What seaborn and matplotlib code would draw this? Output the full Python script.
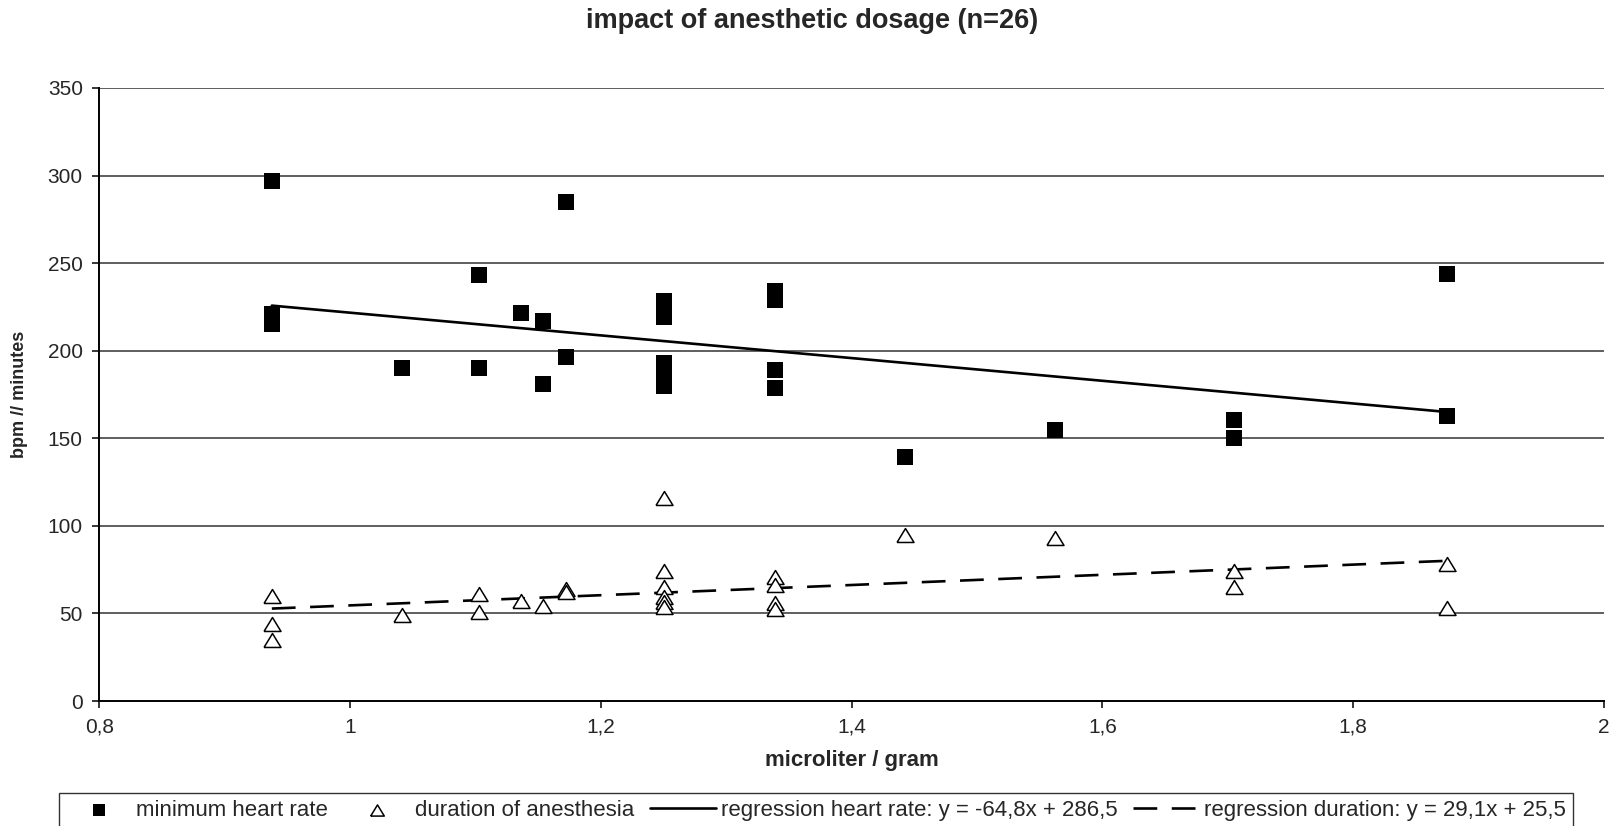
import numpy as np
import pandas as pd
import matplotlib
matplotlib.use('Agg')
import matplotlib.pyplot as plt
import seaborn as sns

# Data
# minimum heart rate (bpm) per dosage (microliter / gram)
hr_dose = [0.9375, 0.9375, 0.9375, 1.0417, 1.1029, 1.1029, 1.1364, 1.1538, 1.1538,
           1.1719, 1.1719, 1.25, 1.25, 1.25, 1.25, 1.25, 1.339, 1.339, 1.339, 1.339,
           1.4423, 1.5625, 1.7045, 1.7045, 1.875, 1.875]
hr_value = [297, 221, 215, 190, 243.5, 190, 221.5, 217, 181,
            285, 196.5, 228.5, 219, 193, 186, 180, 234, 229, 189, 178.5,
            139.5, 155, 160.5, 150, 244, 163]

# duration of anesthesia (minutes) per dosage
dur_dose = [0.9375, 0.9375, 0.9375, 1.0417, 1.1029, 1.1029, 1.1364, 1.1538,
            1.1719, 1.1719, 1.25, 1.25, 1.25, 1.25, 1.25, 1.25, 1.339, 1.339, 1.339, 1.339,
            1.4423, 1.5625, 1.7045, 1.7045, 1.875, 1.875]
dur_value = [60, 44, 35, 49, 61, 51, 57, 54,
             64, 62, 116, 74, 65, 59.5, 56.5, 53.5, 71, 66, 56, 52.5,
             95, 93, 74, 65, 78, 53]

# regression equations from the legend
hr_slope, hr_intercept = -64.8, 286.5
dur_slope, dur_intercept = 29.1, 25.5

x_ticks = [0.8, 1.0, 1.2, 1.4, 1.6, 1.8, 2.0]
x_tick_labels = ['0,8', '1', '1,2', '1,4', '1,6', '1,8', '2']
y_ticks = [0, 50, 100, 150, 200, 250, 300, 350]

sns.set_style('white')
plt.rcParams['font.family'] = ['Liberation Sans', 'DejaVu Sans']

fig = plt.figure(figsize=(16.09, 8.26), dpi=100)
ax = fig.add_axes([0.0618, 0.1513, 0.9351, 0.7422])

# horizontal gridlines
for yv in y_ticks[1:]:
    ax.axhline(yv, color='#333333', lw=1.1, zorder=0)

# scatter series
sns.scatterplot(x=hr_dose, y=hr_value, marker='s', color='black', s=120,
                linewidth=0, ax=ax, label='minimum heart rate', zorder=3)
tri = [(-1, -0.82), (1, -0.82), (0, 0.82), (-1, -0.82)]
sns.scatterplot(x=dur_dose, y=dur_value, marker=tri, color='white', edgecolor='black',
                s=150, linewidth=1.1, ax=ax, label='duration of anesthesia', zorder=3)

# regression lines over the dosage range
x_line = np.array([min(hr_dose), max(hr_dose)])
sns.lineplot(x=x_line, y=hr_slope * x_line + hr_intercept, color='black', lw=1.9,
             ax=ax, label='regression heart rate: y = -64,8x + 286,5', zorder=2)
x_line2 = np.array([min(dur_dose), max(dur_dose)])
sns.lineplot(x=x_line2, y=dur_slope * x_line2 + dur_intercept, color='black', lw=1.9,
             linestyle=(0, (9, 5.5)), ax=ax,
             label='regression duration: y = 29,1x + 25,5', zorder=2)

ax.set_xlim(0.8, 2.0)
ax.set_ylim(0, 350)
ax.set_xticks(x_ticks)
ax.set_xticklabels(x_tick_labels)
ax.set_yticks(y_ticks)
ax.tick_params(axis='both', direction='out', length=5, width=1.1, color='black',
               labelsize=15, pad=7, left=True, bottom=True)

for side in ['top', 'right']:
    ax.spines[side].set_visible(False)
for side in ['left', 'bottom']:
    ax.spines[side].set_color('black')
    ax.spines[side].set_linewidth(1.4)

ax.set_xlabel('microliter / gram', fontsize=16, fontweight='bold')
ax.xaxis.set_label_coords(0.5, -0.08)
ax.set_ylabel('bpm // minutes', fontsize=13, fontweight='bold')
ax.yaxis.set_label_coords(-0.0475, 0.5)

fig.text(0.505, 0.975, 'impact of anesthetic dosage (n=26)', ha='center', va='center',
         fontsize=19.5, fontweight='bold')

handles, labels = ax.get_legend_handles_labels()
ax.get_legend().remove()
leg = fig.legend(handles, labels, loc='upper left', ncol=4,
                 bbox_to_anchor=(0.0364, 0.04), borderaxespad=0, borderpad=0.3,
                 fontsize=16, frameon=True, fancybox=False, handlelength=3.0,
                 handletextpad=0.2, columnspacing=0.7, markerscale=0.8)
leg.get_frame().set_edgecolor('black')
leg.get_frame().set_linewidth(1.0)

fig.savefig('out.png', dpi=100, facecolor='white')
